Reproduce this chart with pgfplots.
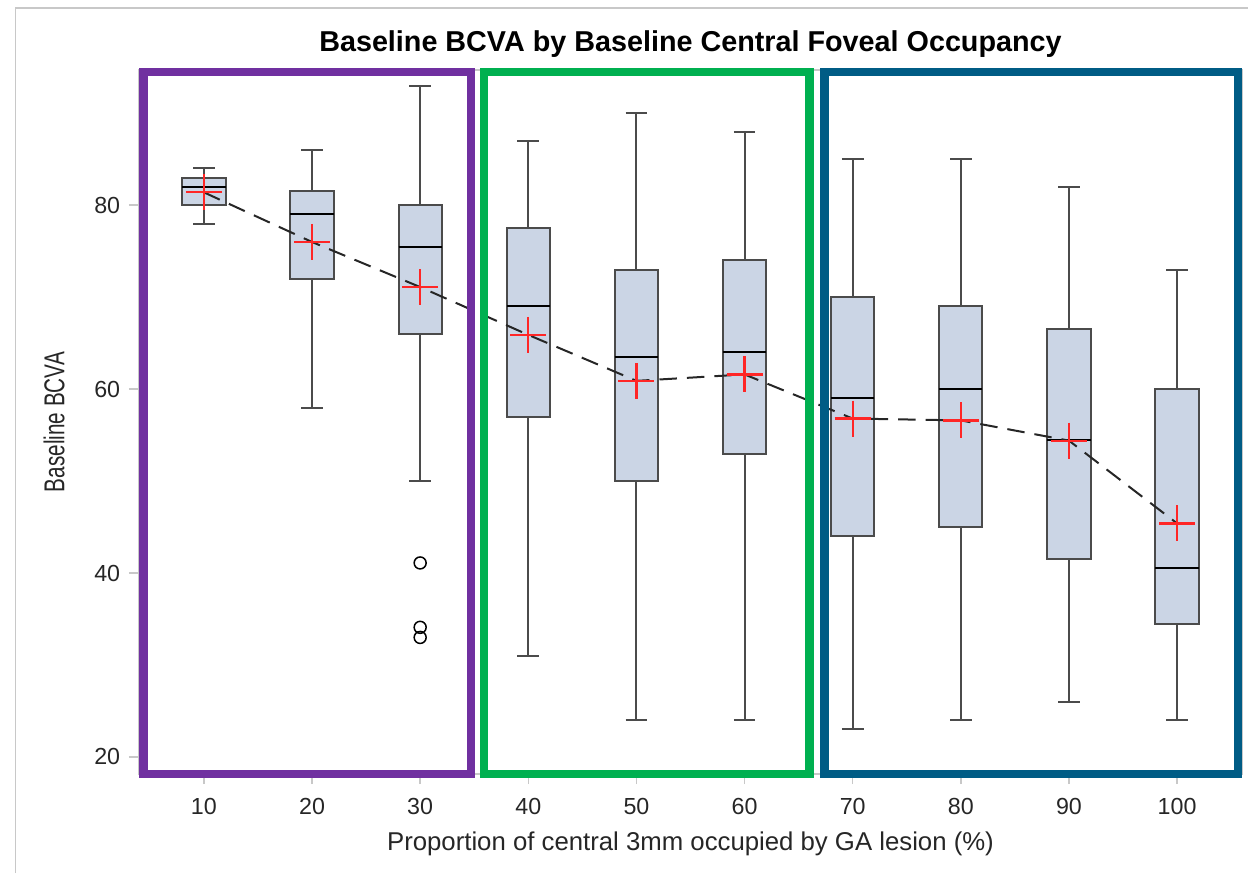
\documentclass[border=0pt]{standalone}
\usepackage{fontspec}
\setmainfont{Liberation Sans}
\usepackage{pgfplots}
\pgfplotsset{compat=1.18}
\usepgfplotslibrary{statistics}
\definecolor{boxfill}{RGB}{203,213,229}
\definecolor{boxedge}{RGB}{75,75,75}
\definecolor{grpA}{RGB}{112,48,160}
\definecolor{grpB}{RGB}{0,176,80}
\definecolor{grpC}{RGB}{0,92,133}
\definecolor{axgray}{RGB}{200,200,200}

\pgfplotsset{
  bx/.style={
    draw=boxedge, fill=boxfill, line width=0.8pt, solid,
    boxplot/draw direction=y,
    boxplot/box extend=4,
    boxplot/whisker extend=2,
    boxplot/every median/.style={black, line width=0.8pt},
    mark=o, mark size=2.4pt, mark options={black, fill=none, line width=0.6pt},
  },
}

\begin{document}
\begin{tikzpicture}
% page size: 1px = 0.4pt, axis box lower left at (0,0)
\path[use as bounding box] (-55.6pt,-39.6pt) rectangle (443.6pt,309.6pt);
\draw[axgray, line width=0.6pt] (-49.3pt,-39.6pt) -- (-49.3pt,306.4pt) -- (443.6pt,306.4pt);
\begin{axis}[
    scale only axis,
    width=441.2pt, height=281.6pt,
    xmin=4, xmax=106,
    ymin=18.15, ymax=94.7,
    clip=false,
    xtick={10,20,...,100},
    ytick={20,40,60,80},
    tick align=outside,
    major tick length=4pt,
    tick style={axgray, line width=0.6pt},
    axis line style={axgray, line width=0.6pt},
    xtick pos=bottom, ytick pos=left,
    ticklabel style={font=\fontsize{9.3}{11}\selectfont, text=black!85},
    /pgf/number format/assume math mode=true,
    xticklabel style={yshift=-2pt},
    title={\textbf{Baseline BCVA by Baseline Central Foveal Occupancy}},
    title style={font=\fontsize{11.5}{13}\selectfont, yshift=-4.5pt},
    xlabel={Proportion of central 3mm occupied by GA lesion (\%)},
    xlabel style={font=\fontsize{10.3}{12}\selectfont, text=black!85, yshift=0pt},
    ylabel={\scalebox{0.72}[1]{Baseline BCVA}},
    ylabel style={font=\fontsize{11.5}{13}\selectfont, text=black!85, yshift=5pt},
]
\addplot[bx, boxplot prepared={draw position=10, lower whisker=78, lower quartile=80, median=82, upper quartile=83, upper whisker=84}] coordinates {};
\addplot[bx, boxplot prepared={draw position=20, lower whisker=58, lower quartile=72, median=79, upper quartile=81.5, upper whisker=86}] coordinates {};
\addplot[bx, boxplot prepared={draw position=30, lower whisker=50, lower quartile=66, median=75.5, upper quartile=80, upper whisker=93}] coordinates {(0,41.1) (0,34.1) (0,33.0)};
\addplot[bx, boxplot prepared={draw position=40, lower whisker=31, lower quartile=57, median=69, upper quartile=77.5, upper whisker=87}] coordinates {};
\addplot[bx, boxplot prepared={draw position=50, lower whisker=24, lower quartile=50, median=63.5, upper quartile=73, upper whisker=90}] coordinates {};
\addplot[bx, boxplot prepared={draw position=60, lower whisker=24, lower quartile=53, median=64, upper quartile=74, upper whisker=88}] coordinates {};
\addplot[bx, boxplot prepared={draw position=70, lower whisker=23, lower quartile=44, median=59, upper quartile=70, upper whisker=85}] coordinates {};
\addplot[bx, boxplot prepared={draw position=80, lower whisker=24, lower quartile=45, median=60, upper quartile=69, upper whisker=85}] coordinates {};
\addplot[bx, boxplot prepared={draw position=90, lower whisker=26, lower quartile=41.5, median=54.5, upper quartile=66.5, upper whisker=82}] coordinates {};
\addplot[bx, boxplot prepared={draw position=100, lower whisker=24, lower quartile=34.5, median=40.5, upper quartile=60, upper whisker=73}] coordinates {};

% means
\addplot[black!85, line width=0.8pt, dash pattern=on 7pt off 4pt,
  mark=+, mark size=7.2pt, mark options={solid, red!85!white, line width=0.9pt}]
  coordinates {(10,81.4) (20,76.0) (30,71.1) (40,65.9) (50,60.9) (60,61.6) (70,56.8) (80,56.6) (90,54.4) (100,45.4)};

% group frames
\draw[grpA, line width=3.3pt] (axis cs:4.42,18.15) rectangle (axis cs:34.7,94.45);
\draw[grpB, line width=3.3pt] (axis cs:35.9,18.15) rectangle (axis cs:66.0,94.45);
\draw[grpC, line width=3.3pt] (axis cs:67.4,18.15) rectangle (axis cs:105.6,94.45);
\end{axis}
\end{tikzpicture}
\end{document}
